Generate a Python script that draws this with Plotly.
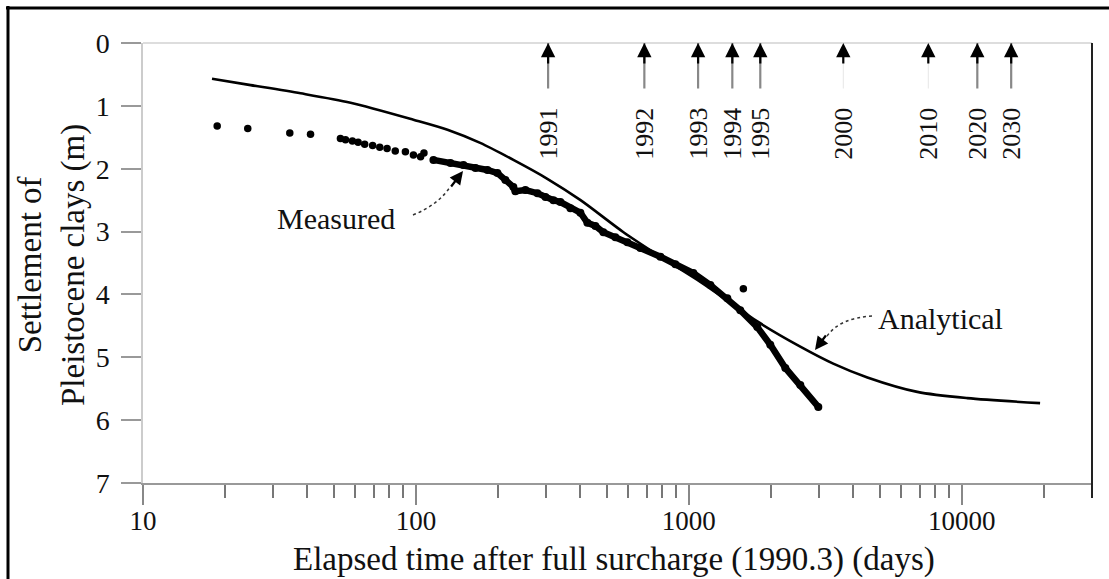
import math
import plotly.graph_objects as go

# ---------------- data ----------------
analytical_days = [17.9, 24.8, 37.8, 57.6, 97.9, 130.5, 172, 227.5, 303, 401, 576,
                   787, 1102, 1419, 1782, 2560, 3381, 4510, 6870, 10470, 19360]
analytical_settle = [0.57, 0.67, 0.80, 0.95, 1.22, 1.38, 1.59, 1.86, 2.16, 2.50, 3.01,
                     3.40, 3.80, 4.13, 4.43, 4.83, 5.10, 5.32, 5.55, 5.65, 5.73]

measured_dot_days = [18.7, 24.2, 34.5, 41.1, 52.9, 55.2, 58.5, 61.4, 64.9, 69.4, 73.7,
                     78.4, 84.0, 91.5, 97.9, 104, 107, 1584]
measured_dot_settle = [1.32, 1.36, 1.43, 1.45, 1.52, 1.54, 1.56, 1.58, 1.61, 1.63, 1.66,
                       1.68, 1.72, 1.73, 1.78, 1.81, 1.75, 3.91]

measured_line_days = [115.9, 133.8, 149.3, 165.2, 182.8, 198.9, 212.7, 227.5, 231.4, 251.8,
                      278.7, 298.2, 318.9, 338.3, 368.1, 400.5, 424.9, 454.5, 486.1, 538.0,
                      595.3, 664.2, 786.4, 892.4, 1038.7, 1199, 1383.6, 1543, 1781, 1988,
                      2257, 2561, 2981]
measured_line_settle = [1.86, 1.91, 1.94, 1.99, 2.02, 2.07, 2.18, 2.29, 2.36, 2.34,
                        2.39, 2.45, 2.50, 2.53, 2.63, 2.70, 2.86, 2.91, 3.01, 3.09,
                        3.17, 3.26, 3.40, 3.52, 3.66, 3.85, 4.06, 4.25, 4.52, 4.80,
                        5.17, 5.44, 5.79]

year_labels = ["1991", "1992", "1993", "1994", "1995", "2000", "2010", "2020", "2030"]
year_days = [305, 687, 1081, 1443, 1827, 3680, 7540, 11400, 15170]
year_shaft_strong = [True, True, True, True, True, False, False, True, True]

x_tick_vals = [10, 100, 1000, 10000]
x_tick_text = ["10", "100", "1000", "10000"]
x_minor_vals = [20, 30, 40, 50, 60, 70, 80, 90, 200, 300, 400, 500, 600, 700, 800, 900,
                2000, 3000, 4000, 5000, 6000, 7000, 8000, 9000, 20000, 30000]
y_tick_vals = [0, 1, 2, 3, 4, 5, 6, 7]

# ---------------- layout geometry ----------------
W, H = 1109, 579
ML, MR, MT, MB = 143, 17, 43, 96
PW, PH = W - ML - MR, H - MT - MB
FONT = "Liberation Serif"


def px(xp):
    return (xp - ML) / PW


def py(yp):
    return (H - MB - yp) / PH


fig = go.Figure()

fig.add_trace(go.Scatter(x=analytical_days, y=analytical_settle, mode="lines",
                         line=dict(color="black", width=2.6, shape="spline", smoothing=0.8),
                         showlegend=False, hoverinfo="skip"))
fig.add_trace(go.Scatter(x=measured_line_days, y=measured_line_settle, mode="lines+markers",
                         line=dict(color="black", width=6.5),
                         marker=dict(color="black", size=8),
                         showlegend=False, hoverinfo="skip"))
fig.add_trace(go.Scatter(x=measured_dot_days, y=measured_dot_settle, mode="markers",
                         marker=dict(color="black", size=7.5),
                         showlegend=False, hoverinfo="skip"))

annotations = []
shapes = []

# year arrows and labels
for lab, d, strong in zip(year_labels, year_days, year_shaft_strong):
    lx = math.log10(d)
    annotations.append(dict(x=lx, y=0, xref="x", yref="y", axref="pixel", ayref="pixel",
                            ax=0, ay=47, text="", showarrow=True, arrowhead=0,
                            arrowwidth=2.2 if strong else 1,
                            arrowcolor="#888" if strong else "#e6e6e6", standoff=0))
    annotations.append(dict(x=lx, y=0, xref="x", yref="y", axref="pixel", ayref="pixel",
                            ax=0, ay=22, text="", showarrow=True, arrowhead=2,
                            arrowsize=1.3, arrowwidth=2.2, arrowcolor="black", standoff=0))
    annotations.append(dict(x=lx, y=1.44, xref="x", yref="y", text=lab, showarrow=False,
                            textangle=-90, xanchor="center", yanchor="middle",
                            font=dict(family=FONT, size=26, color="#111")))

# Measured label + dashed curved arrow
annotations.append(dict(x=px(336), y=py(218), xref="paper", yref="paper", text="Measured",
                        showarrow=False, xanchor="center", yanchor="middle",
                        font=dict(family=FONT, size=30, color="#111")))
shapes.append(dict(type="path", xref="paper", yref="paper",
                   path=f"M {px(413)},{py(215)} Q {px(438)},{py(205)} {px(450)},{py(187)}",
                   line=dict(color="#333", width=1.5, dash="dot")))
annotations.append(dict(x=px(463), y=py(171), xref="paper", yref="paper",
                        axref="pixel", ayref="pixel", ax=-13, ay=17, text="",
                        showarrow=True, arrowhead=2, arrowsize=1.2, arrowwidth=2.2,
                        arrowcolor="black", standoff=0))

# Analytical label + dashed curved arrow
annotations.append(dict(x=px(940), y=py(318), xref="paper", yref="paper", text="Analytical",
                        showarrow=False, xanchor="center", yanchor="middle",
                        font=dict(family=FONT, size=30, color="#111")))
shapes.append(dict(type="path", xref="paper", yref="paper",
                   path=f"M {px(827)},{py(336)} Q {px(840)},{py(318)} {px(872)},{py(316)}",
                   line=dict(color="#333", width=1.5, dash="dot")))
annotations.append(dict(x=px(815), y=py(350), xref="paper", yref="paper",
                        axref="pixel", ayref="pixel", ax=12, ay=-16, text="",
                        showarrow=True, arrowhead=2, arrowsize=1.2, arrowwidth=2.2,
                        arrowcolor="black", standoff=0))

# axis titles
annotations.append(dict(x=px(614), y=py(559), xref="paper", yref="paper",
                        text="Elapsed time after full surcharge (1990.3) (days)",
                        showarrow=False, xanchor="center", yanchor="middle",
                        font=dict(family=FONT, size=33, color="#111")))
annotations.append(dict(x=px(52), y=py(265), xref="paper", yref="paper",
                        text="Settlement of<br>Pleistocene clays (m)",
                        showarrow=False, xanchor="center", yanchor="middle", textangle=-90,
                        font=dict(family=FONT, size=33, color="#111")))

# plot frame: light top, dark right
shapes.append(dict(type="line", xref="paper", yref="paper", x0=0, x1=1, y0=1, y1=1,
                   line=dict(color="#dddddd", width=2)))
shapes.append(dict(type="line", xref="paper", yref="paper", x0=1, x1=1, y0=1, y1=py(498),
                   line=dict(color="#222222", width=2)))
# outer image border (top and left)
shapes.append(dict(type="line", xref="paper", yref="paper", x0=px(6), x1=px(1120),
                   y0=py(8), y1=py(8), line=dict(color="black", width=3)))
shapes.append(dict(type="line", xref="paper", yref="paper", x0=px(8), x1=px(8),
                   y0=py(6), y1=py(600), line=dict(color="black", width=3)))

fig.update_layout(
    width=W, height=H,
    margin=dict(l=ML, r=MR, t=MT, b=MB),
    paper_bgcolor="white", plot_bgcolor="white",
    font=dict(family=FONT, color="#111"),
    showlegend=False,
    annotations=annotations,
    shapes=shapes,
    xaxis=dict(type="log", range=[1, math.log10(30000)], showgrid=False, zeroline=False,
               tickmode="array", tickvals=x_tick_vals, ticktext=x_tick_text,
               ticks="outside", ticklen=20, tickwidth=1.5, tickcolor="#888",
               showline=True, linecolor="#999", linewidth=2,
               tickfont=dict(family=FONT, size=27, color="#111"),
               ticklabelstandoff=-7,
               minor=dict(ticks="outside", ticklen=13, tickwidth=1.5, tickcolor="#777",
                          tickmode="array", tickvals=x_minor_vals, showgrid=False)),
    yaxis=dict(range=[7, 0], showgrid=False, zeroline=False,
               tickmode="array", tickvals=y_tick_vals,
               ticks="outside", ticklen=20, tickwidth=1.5, tickcolor="#999",
               showline=True, linecolor="#cccccc", linewidth=1.5,
               tickfont=dict(family=FONT, size=28, color="#111"),
               ticklabelstandoff=6),
)

fig.write_html("out.html")
